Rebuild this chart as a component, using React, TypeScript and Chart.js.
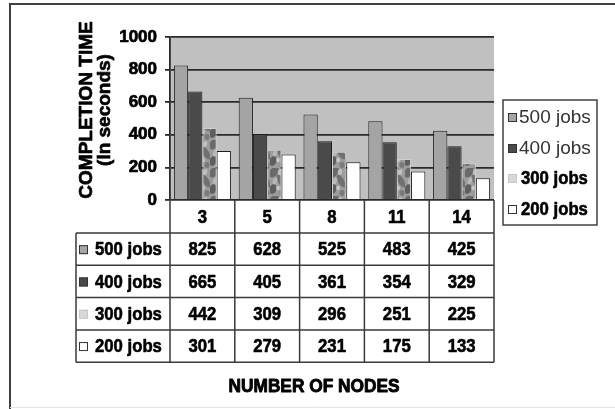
import { useEffect, useRef } from 'react';
import { Chart, registerables } from 'chart.js';

Chart.register(...registerables);

const categories = ['3', '5', '8', '11', '14'];
const seriesLabels = ['500 jobs', '400 jobs', '300 jobs', '200 jobs'];
const jobs500 = [825, 628, 525, 483, 425];
const jobs400 = [665, 405, 361, 354, 329];
const jobs300 = [442, 309, 296, 251, 225];
const jobs200 = [301, 279, 231, 175, 133];
const yTickValues = [0, 200, 400, 600, 800, 1000];
const yTitleLines = ['COMPLETION TIME', '(In seconds)'];
const xTitleText = 'NUMBER OF NODES';

const SANS = '"Liberation Sans", Arial, sans-serif';
const LINE = '#3a3a3a';

function makePattern(): CanvasPattern | string {
  const c = document.createElement('canvas');
  c.width = 15;
  c.height = 28;
  const g = c.getContext('2d');
  if (!g) return '#9c9c9c';
  g.fillStyle = '#9c9c9c';
  g.fillRect(0, 0, 15, 28);
  const blob = (x: number, y: number, rx: number, ry: number, rot: number, col: string) => {
    g.fillStyle = col;
    g.beginPath();
    g.ellipse(x, y, rx, ry, rot, 0, Math.PI * 2);
    g.fill();
  };
  blob(4, 4, 4, 6, 0.6, '#6a6a6a');
  blob(11, 13, 3, 7, -0.5, '#707070');
  blob(3, 21, 3.5, 5, 0.3, '#5e5e5e');
  blob(12, 25, 2.5, 3, 0, '#7a7a7a');
  blob(10, 4, 2.2, 3, 0.2, '#c0c0c0');
  blob(5, 13, 2, 3.5, 0.4, '#b8b8b8');
  blob(8, 20, 1.8, 2.2, 0, '#cacaca');
  return g.createPattern(c, 'repeat') || '#9c9c9c';
}

// bold text drawn slightly condensed and heavy, like the reference
function narrowText(
  ctx: CanvasRenderingContext2D, t: string, x: number, y: number,
  size: number, sx: number, align: CanvasTextAlign, stroke = 0.6,
) {
  ctx.save();
  ctx.translate(x, y);
  ctx.scale(sx, 1);
  ctx.font = `bold ${size}px ${SANS}`;
  ctx.textAlign = align;
  ctx.textBaseline = 'middle';
  ctx.fillStyle = '#000';
  ctx.strokeStyle = '#000';
  ctx.lineWidth = stroke;
  ctx.lineJoin = 'round';
  if (stroke > 0) ctx.strokeText(t, 0, 0);
  ctx.fillText(t, 0, 0);
  ctx.restore();
}

export default function App() {
  const ref = useRef<HTMLCanvasElement | null>(null);

  useEffect(() => {
    const canvas = ref.current;
    if (!canvas) return;
    const pattern = makePattern();
    const seriesData = [jobs500, jobs400, jobs300, jobs200];
    const fills: (string | CanvasPattern)[] = ['#a4a4a4', '#4a4a4a', pattern, '#ffffff'];
    const keyFills: string[] = ['#a6a6a6', '#4a4a4a', '#d8d8d8', '#ffffff'];
    const borders = ['#1e1e1e', '#1e1e1e', '#d0d0d0', '#1e1e1e'];

    const drawKey = (ctx: CanvasRenderingContext2D, x: number, y: number, s: number, i: number) => {
      ctx.fillStyle = keyFills[i];
      ctx.fillRect(x, y, s, s);
      ctx.strokeStyle = i === 2 ? '#c8c8c8' : '#333';
      ctx.lineWidth = 1;
      ctx.strokeRect(x + 0.5, y + 0.5, s - 1, s - 1);
    };

    const decor = {
      id: 'decor',
      beforeDraw(chart: any) {
        const { ctx, chartArea: a } = chart;
        ctx.save();
        ctx.fillStyle = '#ffffff';
        ctx.fillRect(0, 0, chart.width, chart.height);
        ctx.fillStyle = '#c0c0c0';
        ctx.fillRect(a.left, a.top, a.right - a.left, a.bottom - a.top);
        ctx.strokeStyle = '#404040';
        ctx.lineWidth = 2;
        ctx.beginPath();
        ctx.moveTo(10, chart.height);
        ctx.lineTo(10, 4);
        ctx.lineTo(chart.width, 4);
        ctx.stroke();
        ctx.strokeStyle = '#e4e4e4';
        ctx.lineWidth = 1;
        ctx.beginPath();
        ctx.moveTo(10, chart.height - 1.5);
        ctx.lineTo(chart.width, chart.height - 1.5);
        ctx.stroke();
        ctx.restore();
      },
      afterDraw(chart: any) {
        const { ctx, chartArea: a } = chart;
        const xs = chart.scales.x;
        const n = categories.length;
        const colW = (a.right - a.left) / n;
        const edges: number[] = [];
        for (let i = 0; i < n; i++) edges.push(xs.getPixelForValue(i) - colW / 2);
        edges.push(xs.getPixelForValue(n - 1) + colW / 2);
        const catTop = a.bottom;
        const catBottom = a.bottom + 33;
        const rowH = 32.3;
        const tableLeft = 76;
        const tableBottom = catBottom + rowH * seriesLabels.length;

        ctx.save();
        ctx.fillStyle = '#ffffff';
        ctx.fillRect(edges[0], catTop + 1, edges[n] - edges[0], catBottom - catTop);
        ctx.fillRect(tableLeft, catBottom, edges[n] - tableLeft, tableBottom - catBottom);

        ctx.strokeStyle = LINE;
        ctx.lineWidth = 1.5;
        ctx.beginPath();
        edges.forEach((x) => {
          ctx.moveTo(x, catTop);
          ctx.lineTo(x, tableBottom);
        });
        ctx.moveTo(tableLeft, catBottom);
        ctx.lineTo(tableLeft, tableBottom);
        for (let r = 0; r <= seriesLabels.length; r++) {
          const y = catBottom + r * rowH;
          ctx.moveTo(tableLeft, y);
          ctx.lineTo(edges[n], y);
        }
        ctx.stroke();

        categories.forEach((c, i) => {
          narrowText(ctx, c, xs.getPixelForValue(i), (catTop + catBottom) / 2 + 1, 19, 0.88, 'center');
        });
        seriesLabels.forEach((lab, r) => {
          const cy = catBottom + r * rowH + rowH / 2 + 1;
          drawKey(ctx, 79, cy - 5, 9, r);
          narrowText(ctx, lab, 95, cy, 19, 0.88, 'left');
          seriesData[r].forEach((v, i) => {
            narrowText(ctx, String(v), xs.getPixelForValue(i), cy, 19, 0.88, 'center');
          });
        });

        narrowText(ctx, xTitleText, 314, 387, 19, 0.91, 'center', 0.9);

        ctx.save();
        ctx.translate(87, 110);
        ctx.rotate(-Math.PI / 2);
        narrowText(ctx, yTitleLines[0], 0, 0, 19, 1, 'center', 0.7);
        narrowText(ctx, yTitleLines[1], 0, 18, 19, 1, 'center', 0.7);
        ctx.restore();

        const lx = 503, ly = 100, lw = 94, lh = 125;
        ctx.fillStyle = '#fff';
        ctx.fillRect(lx, ly, lw, lh);
        ctx.strokeStyle = '#404040';
        ctx.lineWidth = 1.5;
        ctx.strokeRect(lx, ly, lw, lh);
        const itemY = [117, 148, 178, 209];
        seriesLabels.forEach((lab, i) => {
          drawKey(ctx, 508, itemY[i] - 4, 9, i);
          if (i < 2) {
            ctx.font = `19px ${SANS}`;
            ctx.textAlign = 'left';
            ctx.textBaseline = 'middle';
            ctx.fillStyle = '#333';
            ctx.fillText(lab, 519, itemY[i] + 1);
          } else {
            narrowText(ctx, lab, 521, itemY[i] + 1, 19, 0.88, 'left');
          }
        });
        ctx.restore();
      },
    };

    const chart = new Chart(canvas, {
      type: 'bar',
      data: {
        labels: categories,
        datasets: seriesLabels.map((lab, i) => ({
          label: lab,
          data: seriesData[i],
          backgroundColor: fills[i] as any,
          borderColor: borders[i],
          borderWidth: 1,
          categoryPercentage: 0.88,
          barPercentage: 1,
        })),
      },
      options: {
        responsive: false,
        animation: false,
        devicePixelRatio: 1,
        layout: { padding: { left: 0, right: 121, top: 37, bottom: 0 } },
        plugins: {
          legend: { display: false },
          tooltip: { enabled: false },
          title: { display: false },
        },
        scales: {
          x: {
            display: true,
            grid: { display: false },
            border: { display: false },
            ticks: { display: false },
            afterFit: (s: any) => { s.height = 209; },
          },
          y: {
            min: 0,
            max: 1000,
            afterBuildTicks: (s: any) => { s.ticks = yTickValues.map((v) => ({ value: v })); },
            ticks: {
              color: '#000',
              padding: 8,
              font: { family: SANS, size: 17, weight: 'bold' },
              textStrokeColor: '#000',
              textStrokeWidth: 0.7,
              callback: (v: any) => String(v),
            },
            grid: { color: '#2a2a2a', lineWidth: 1.8, tickLength: 5 },
            border: { display: true, color: '#2a2a2a', width: 1.8 },
            afterFit: (s: any) => { s.width = 170; },
          },
        },
      },
      plugins: [decor],
    });
    return () => chart.destroy();
  }, []);

  return (
    <div style={{ position: 'absolute', left: 0, top: 0, width: 615, height: 409 }}>
      <canvas ref={ref} width={615} height={409} />
    </div>
  );
}
